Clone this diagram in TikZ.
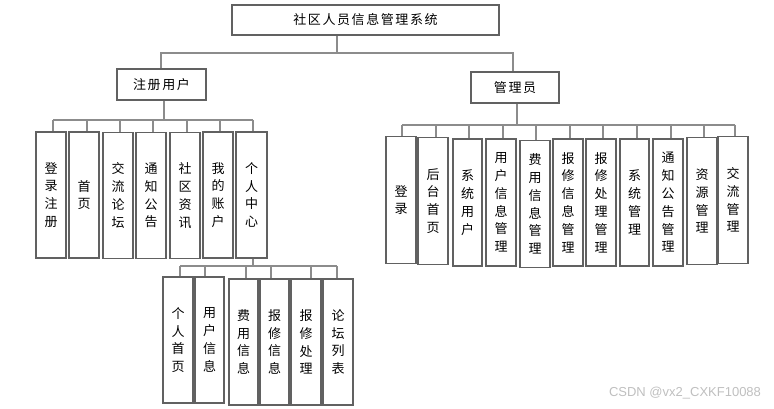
\documentclass[tikz,border=0pt]{standalone}
\usepackage{fontspec}
\setmainfont{Noto Sans CJK SC}
\newfontfamily\wmfont{Liberation Sans}
\def\spr#1{\spri#1\relax}
\def\spri#1{\ifx#1\relax\else#1\expandafter\sprii\fi}
\def\sprii#1{\ifx#1\relax\else\kern1.6pt#1\expandafter\sprii\fi}
\begin{document}
\begin{tikzpicture}[x=1pt,y=-1pt,
  box/.style={draw=black!62,line width=1.3pt,fill=white,inner sep=0pt},
  hbox/.style={box,font=\fontsize{13}{14}\selectfont},
  vbox/.style={box,minimum width=30pt,minimum height=126pt,align=center,
    font=\fontsize{13}{17.8}\selectfont},
  conn/.style={draw=black!45,line width=1.3pt}]
\useasboundingbox (0,0) rectangle (774,409);

% top level
\node[hbox,minimum width=267pt,minimum height=30pt] (root) at (365.5,20) {\spr{社区人员信息管理系统}};
\node[hbox,minimum width=89pt,minimum height=31pt] (reg) at (161.5,84.5) {\spr{注册用户}};
\node[hbox,minimum width=88pt,minimum height=31pt] (adm) at (515,87.5) {\spr{管理员}};

\coordinate (rb) at (337,53);
\draw[conn] (root.south -| rb) -- (rb);
\draw[conn] (reg.north -| 161,0) -- (161,53) -- (513,53) -- (adm.north -| 513,0);

% left children
\node[vbox] (l1) at (51,195) {登\\录\\注\\册};
\node[vbox] (l2) at (84,195) {首\\页};
\node[vbox] (l3) at (118,195.5) {交\\流\\论\\坛};
\node[vbox] (l4) at (151,195.5) {通\\知\\公\\告};
\node[vbox] (l5) at (185,195.5) {社\\区\\资\\讯};
\node[vbox] (l6) at (218,195) {我\\的\\账\\户};
\node[vbox,minimum width=31pt] (l7) at (251.5,195) {个\\人\\中\\心};

\coordinate (lb) at (164,120);
\draw[conn] (reg.south -| lb) -- (lb);
\draw[conn] (53,120) -- (253,120);
\foreach \n/\x in {l1/53,l2/87,l3/120,l4/153,l5/187,l6/220,l7/253}
  \draw[conn] (\x,120) -- (\n.north -| \x,0);

% sub children of 个人中心
\node[vbox] (s1) at (178,340) {个\\人\\首\\页};
\node[vbox,minimum width=29pt] (s2) at (209.5,340) {用\\户\\信\\息};
\node[vbox,minimum width=29pt] (s3) at (243.5,342) {费\\用\\信\\息};
\node[vbox,minimum width=29pt] (s4) at (274.5,342) {报\\修\\信\\息};
\node[vbox] (s5) at (306,342) {报\\修\\处\\理};
\node[vbox] (s6) at (338,342) {论\\坛\\列\\表};

\coordinate (sb) at (253,266);
\draw[conn] (l7.south -| sb) -- (sb);
\draw[conn] (180,266) -- (337,266);
\foreach \n/\x in {s1/180,s2/205,s3/246,s4/271,s5/311,s6/337}
  \draw[conn] (\x,266) -- (\n.north -| \x,0);

% admin children
\tikzset{rbox/.style={vbox,minimum height=127pt}}
\node[rbox] (r1) at (401,200) {登\\录};
\node[rbox] (r2) at (433,201) {后\\台\\首\\页};
\node[rbox,minimum width=29pt] (r3) at (467.5,202.5) {系\\统\\用\\户};
\node[rbox] (r4) at (501,202.5) {用\\户\\信\\息\\管\\理};
\node[rbox] (r5) at (535,204) {费\\用\\信\\息\\管\\理};
\node[rbox] (r6) at (568,202.5) {报\\修\\信\\息\\管\\理};
\node[rbox] (r7) at (601,202.5) {报\\修\\处\\理\\管\\理};
\node[rbox,minimum width=29pt] (r8) at (634.5,202.5) {系\\统\\管\\理};
\node[rbox] (r9) at (668,202.5) {通\\知\\公\\告\\管\\理};
\node[rbox] (r10) at (702,201) {资\\源\\管\\理};
\node[rbox] (r11) at (733,200) {交\\流\\管\\理};

\coordinate (ab) at (517,125);
\draw[conn] (adm.south -| ab) -- (ab);
\draw[conn] (402,125) -- (735,125);
\foreach \n/\x in {r1/402,r2/436,r3/469,r4/503,r5/536,r6/570,r7/603,r8/637,r9/671,r10/704,r11/735}
  \draw[conn] (\x,125) -- (\n.north -| \x,0);

% watermark
\node[text=black!25,font=\wmfont\fontsize{13}{14}\selectfont,inner sep=0pt] (wm) at (685,393) {CSDN @vx2\_CXKF10088};
\end{tikzpicture}
\end{document}
